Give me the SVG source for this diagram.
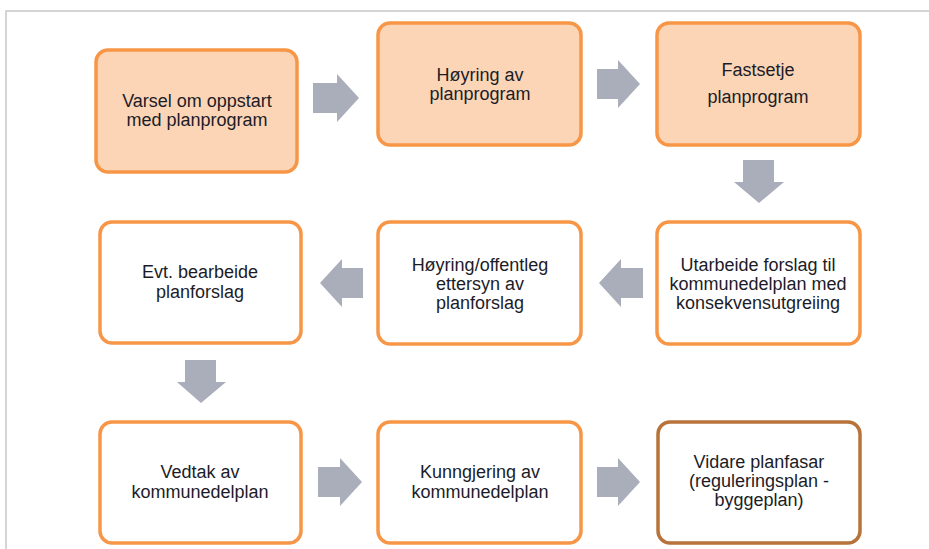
<svg xmlns="http://www.w3.org/2000/svg" width="929" height="549" viewBox="0 0 929 549">
<style>
.box{fill:#ffffff;stroke:#f79646;stroke-width:3.5}
.fill{fill:#fbd5b5}
.end{stroke:#b8733a}
.t{font-family:"Liberation Sans",Arial,sans-serif;font-size:18px;fill:#1c1c28;text-anchor:middle}
.arr{fill:#aaaebb}
</style>
<rect width="929" height="549" fill="#ffffff"/>
<path d="M6 549 V11 H929" fill="none" stroke="#c8c8c8" stroke-width="1.5"/>
<g id="connectors">
<polygon class="arr" points="313,83 337,83 337,74 359,98 337,122 337,113 313,113"/>
<polygon class="arr" points="597,69 618,69 618,60 640,84 618,108 618,99 597,99"/>
<polygon class="arr" points="743,160 774,160 774,182 784,182 759,203 734,182 743,182"/>
<polygon class="arr" points="643,268 621,268 621,259 599,283 621,307 621,298 643,298"/>
<polygon class="arr" points="363,268 342,268 342,259 320,283 342,307 342,298 363,298"/>
<polygon class="arr" points="185,360 216,360 216,382 226,382 201,403 177,382 185,382"/>
<polygon class="arr" points="318,467 340,467 340,458 362,482 340,506 340,497 318,497"/>
<polygon class="arr" points="597,467 618,467 618,458 640,482 618,506 618,497 597,497"/>
</g>
<g id="n1"><rect class="box fill" x="96" y="50" width="201" height="122" rx="12"/>
<text class="t" x="197" y="107">Varsel om oppstart</text><text class="t" x="197" y="126">med planprogram</text></g>
<g id="n2"><rect class="box fill" x="378" y="23" width="203" height="122" rx="12"/>
<text class="t" x="480" y="81">Høyring av</text><text class="t" x="480" y="100">planprogram</text></g>
<g id="n3"><rect class="box fill" x="657" y="23" width="203" height="122" rx="12"/>
<text class="t" x="758" y="76">Fastsetje</text><text class="t" x="758" y="103">planprogram</text></g>
<g id="n4"><rect class="box" x="657" y="222" width="203" height="122" rx="12"/>
<text class="t" x="758" y="271">Utarbeide forslag til</text><text class="t" x="758" y="290">kommunedelplan med</text><text class="t" x="758" y="309">konsekvensutgreiing</text></g>
<g id="n5"><rect class="box" x="378" y="222" width="203" height="122" rx="12"/>
<text class="t" x="480" y="271">Høyring/offentleg</text><text class="t" x="480" y="290">ettersyn av</text><text class="t" x="480" y="309">planforslag</text></g>
<g id="n6"><rect class="box" x="100" y="222" width="201" height="121" rx="12"/>
<text class="t" x="200" y="278">Evt. bearbeide</text><text class="t" x="200" y="298">planforslag</text></g>
<g id="n7"><rect class="box" x="100" y="422" width="201" height="121" rx="12"/>
<text class="t" x="200" y="478">Vedtak av</text><text class="t" x="200" y="498">kommunedelplan</text></g>
<g id="n8"><rect class="box" x="378" y="422" width="203" height="121" rx="12"/>
<text class="t" x="480" y="478">Kunngjering av</text><text class="t" x="480" y="498">kommunedelplan</text></g>
<g id="n9"><rect class="box end" x="658" y="422" width="202" height="121" rx="12"/>
<text class="t" x="759" y="468">Vidare planfasar</text><text class="t" x="759" y="487">(reguleringsplan -</text><text class="t" x="759" y="506">byggeplan)</text></g>
</svg>
